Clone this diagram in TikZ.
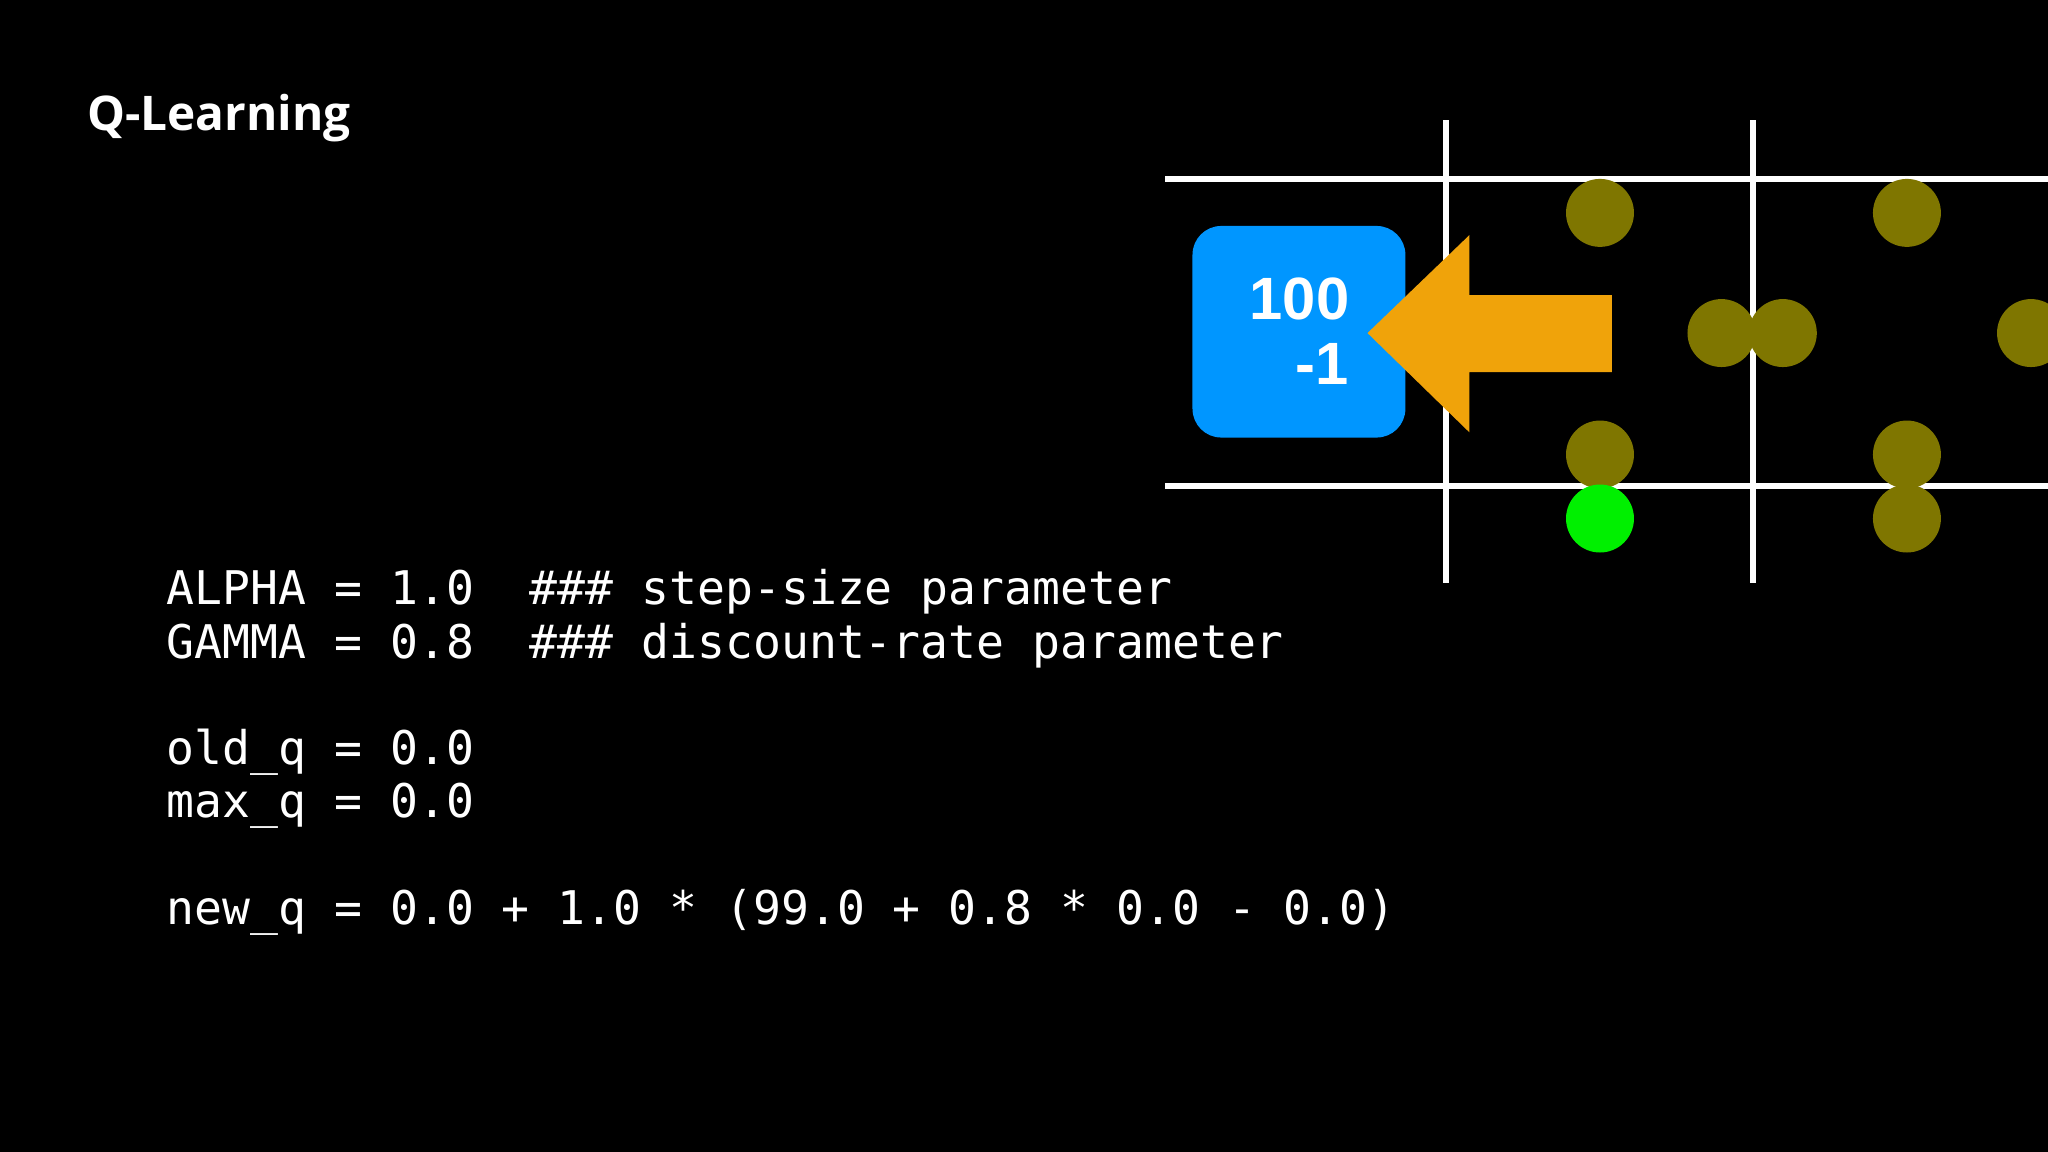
\documentclass[tikz,border=0pt]{standalone}
\usepackage{fontspec}
\setmainfont{Open Sans}
\setmonofont{DejaVu Sans Mono}
\newfontfamily\boxfont{Liberation Sans}
\definecolor{olive}{HTML}{7F7600}
\definecolor{bluebox}{HTML}{0096FF}
\definecolor{orangearr}{HTML}{F0A30A}
\definecolor{brightgreen}{HTML}{00F000}
\begin{document}
\begin{tikzpicture}[x=0.01cm,y=-0.01cm,
  gridline/.style={draw=white,line width=1.4pt},
  dot/.style={circle,fill=olive,minimum size=0.52cm,inner sep=0pt},
  code/.style={anchor=base west,text=white,font=\ttfamily\fontsize{10.1}{12}\selectfont,inner sep=0pt}]
\fill[black] (0,0) rectangle (1568,882);
\useasboundingbox (0,0) rectangle (1568,882);
\node[anchor=base west,text=white,inner sep=0pt,font=\bfseries\fontsize{10.4}{12}\selectfont] (title) at (66,100) {Q-Learning};
% grid
\coordinate (h1a) at (892,137); \coordinate (h1b) at (1568,137);
\coordinate (h2a) at (892,372); \coordinate (h2b) at (1568,372);
\coordinate (v1a) at (1107,92); \coordinate (v1b) at (1107,446);
\coordinate (v2a) at (1342,92); \coordinate (v2b) at (1342,446);
\draw[gridline] (h1a) -- (h1b);
\draw[gridline] (h2a) -- (h2b);
\draw[gridline] (v1a) -- (v1b);
\draw[gridline] (v2a) -- (v2b);
% dots
\node[dot] (d1) at (1225,163) {};
\node[dot] (d2) at (1460,163) {};
\node[dot] (d3) at (1318,255) {};
\node[dot] (d4) at (1365,255) {};
\node[dot] (d5) at (1555,255) {};
\node[dot] (d6) at (1225,348) {};
\node[dot] (d7) at (1460,348) {};
\node[dot] (d8) at (1460,397) {};
\node[dot,fill=brightgreen] (g1) at (1225,397) {};
% box
\fill[bluebox,rounded corners=0.22cm] (913,173) rectangle (1076,335);
\node[text=white,font=\boxfont\bfseries\fontsize{13}{15}\selectfont,inner sep=0pt] (n100) at (995,229) {100};
\node[text=white,font=\boxfont\bfseries\fontsize{13}{15}\selectfont,inner sep=0pt] (nm1) at (1012,279) {-1};
% arrow
\fill[orangearr] (1047,255) -- (1125,180) -- (1125,226) -- (1234,226) -- (1234,285) -- (1125,285) -- (1125,331) -- cycle;
% code
\node[code] (c1) at (127,463) {ALPHA = 1.0\ \ \#\#\# step-size parameter};
\node[code] (c2) at (127,504) {GAMMA = 0.8\ \ \#\#\# discount-rate parameter};
\node[code] (c3) at (127,585) {old\_q = 0.0};
\node[code] (c4) at (127,626) {max\_q = 0.0};
\node[code] (c5) at (127,708) {new\_q = 0.0 + 1.0 * (99.0 + 0.8 * 0.0 - 0.0)};
\end{tikzpicture}
\end{document}
